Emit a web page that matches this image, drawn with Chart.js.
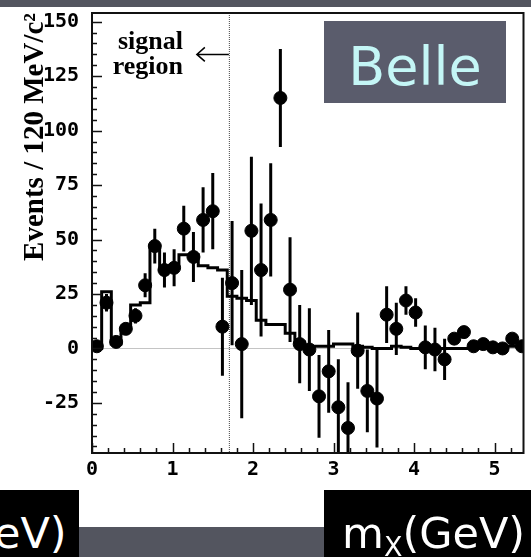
<!DOCTYPE html>
<html>
<head>
<meta charset="utf-8">
<script src="https://cdn.jsdelivr.net/npm/chart.js@4.4.0/dist/chart.umd.min.js"></script>
<style>
  html, body { margin: 0; padding: 0; background: #fff; }
  #wrap { position: relative; width: 531px; height: 557px; overflow: hidden; }
  #chart { position: absolute; left: 0; top: 0; }
  .band { position: absolute; background: #53555f; }
  .box { position: absolute; background: #000; color: #fff; font-family: "DejaVu Sans", sans-serif; white-space: nowrap; overflow: hidden; }
  #belle { position: absolute; left: 324px; top: 21px; width: 182px; height: 82px; background: #5a5c6c;
           color: #c4f6f6; font-family: "DejaVu Sans", sans-serif; font-size: 54px; line-height: 92px; text-align: center; }
  #signal { position: absolute; right: 348px; top: 28px; font-family: "Liberation Serif", serif; font-weight: bold;
            font-size: 26px; line-height: 25px; text-align: right; color: #000; }
</style>
</head>
<body>
<div id="wrap">
  <canvas id="chart" width="531" height="557"></canvas>
  <div class="band" style="left:0;top:0;width:531px;height:7px;"></div>
  <div id="belle">Belle</div>
  <div id="signal">signal<br>region</div>
  <div class="box" style="left:0;top:490px;width:79px;height:67px;font-size:43px;line-height:86px;text-indent:-6px;">eV)</div>
  <div class="band" style="left:79px;top:527px;width:245px;height:30px;"></div>
  <div class="box" style="left:324px;top:490px;width:207px;height:67px;font-size:43px;line-height:86px;padding-left:18px;box-sizing:border-box;">m<sub style="font-size:27px;vertical-align:-8px;">X</sub>(GeV)</div>
</div>
<script>
// bin centres, 120 MeV bins
const massBins = [0.06, 0.18, 0.30, 0.42, 0.54, 0.66, 0.78, 0.90, 1.02, 1.14,
                  1.26, 1.38, 1.50, 1.62, 1.74, 1.86, 1.98, 2.10, 2.22, 2.34,
                  2.46, 2.58, 2.70, 2.82, 2.94, 3.06, 3.18, 3.30, 3.42, 3.54,
                  3.66, 3.78, 3.90, 4.02, 4.14, 4.26, 4.38, 4.50, 4.62, 4.74,
                  4.86, 4.98, 5.10, 5.22, 5.34];
const eventCounts = [1, 21, 3, 9, 15, 29, 47, 36, 37, 55,
                     42, 59, 63, 10, 30, 2, 54, 36, 59, 115,
                     27, 2, -0.5, -22, -10.5, -27, -36.5, -1, -19.5, -23,
                     15.5, 9, 22, 16.5, 0.5, -0.5, -5, 4.5, 7.5, 1,
                     2, 0.5, 0, 4.5, 1];
const eventErrors = [2, 4, 1.5, 2.5, 3.5, 5.5, 8, 8, 8.5, 10.5,
                     11.5, 15, 17.5, 22.5, 28.5, 34, 34, 30.5, 26, 22.5,
                     24, 18, 19, 19, 19, 22, 21, 17.5, 19, 22.5,
                     13, 12, 6.5, 6.5, 10, 10, 9.5, 2, 2, 2,
                     2, 2, 2, 2, 2];
const fitCurve = [0, 26, 2, 9, 20, 21, 47, 36, 38, 43,
                  43, 38, 37, 36, 24, 23, 22, 13, 11, 11,
                  7, 3, 1, 1, 1, 2, 2, 1, 0.5, 0,
                  0, 1, 0.5, 0, 0, 0, 0, 0, 0, 0,
                  0, 0, 0, 1, 1];
const binWidth = 0.12;
const signalCut = 1.7;
const xRange = [0, 5.36];
const yRange = [-48, 154];

const points = massBins.map((m, i) => ({ x: m, y: eventCounts[i] }));
// step histogram: left edge of every bin, plus the right edge of the last one
const steps = massBins.map((m, i) => ({ x: m - binWidth / 2, y: fitCurve[i] }));
steps.push({ x: massBins[massBins.length - 1] + binWidth / 2, y: fitCurve[fitCurve.length - 1] });

const isMult = (v, s) => Math.abs(v / s - Math.round(v / s)) < 1e-6;

const framePlugin = {
    id: 'frame',
    beforeDatasetsDraw(chart) {
        const { ctx, chartArea: a, scales: { x, y } } = chart;
        ctx.save();
        // signal region cut
        const sx = x.getPixelForValue(signalCut);
        ctx.strokeStyle = '#444';
        ctx.lineWidth = 1;
        ctx.setLineDash([1, 1]);
        ctx.beginPath();
        ctx.moveTo(sx + 0.5, a.top);
        ctx.lineTo(sx + 0.5, a.bottom);
        ctx.stroke();
        ctx.setLineDash([]);
        // arrow pointing into signal region
        const ay = y.getPixelForValue(135);
        ctx.strokeStyle = '#000';
        ctx.lineWidth = 1.5;
        ctx.beginPath();
        ctx.moveTo(sx, ay);
        ctx.lineTo(sx - 32, ay);
        ctx.moveTo(sx - 24, ay - 7);
        ctx.lineTo(sx - 32, ay);
        ctx.lineTo(sx - 24, ay + 7);
        ctx.stroke();
        // error bars
        ctx.beginPath();
        ctx.rect(a.left, a.top, a.right - a.left, a.bottom - a.top);
        ctx.clip();
        ctx.lineWidth = 3;
        ctx.beginPath();
        massBins.forEach((m, i) => {
            const px = x.getPixelForValue(m);
            ctx.moveTo(px, y.getPixelForValue(eventCounts[i] + eventErrors[i]));
            ctx.lineTo(px, y.getPixelForValue(eventCounts[i] - eventErrors[i]));
        });
        ctx.stroke();
        ctx.restore();
    },
    afterDraw(chart) {
        const { ctx, chartArea: a, scales: { x, y } } = chart;
        ctx.save();
        ctx.strokeStyle = '#111';
        ctx.lineWidth = 1.5;
        ctx.beginPath();
        y.ticks.forEach(t => {
            if (!isMult(t.value, 5)) return;
            const py = Math.round(y.getPixelForValue(t.value)) + 0.5;
            ctx.moveTo(a.left, py);
            ctx.lineTo(a.left + (isMult(t.value, 25) ? 10 : 5), py);
        });
        x.ticks.forEach(t => {
            if (!isMult(t.value, 0.2)) return;
            const px = Math.round(x.getPixelForValue(t.value)) + 0.5;
            ctx.moveTo(px, a.bottom);
            ctx.lineTo(px, a.bottom - (isMult(t.value, 1) ? 10 : 5));
        });
        ctx.stroke();
        ctx.lineWidth = 2;
        ctx.strokeRect(a.left, a.top, a.right - a.left, a.bottom - a.top);
        ctx.restore();
    }
};

const tickFont = { family: '"DejaVu Sans Mono", monospace', size: 20, weight: 'bold' };

new Chart(document.getElementById('chart'), {
    type: 'scatter',
    data: {
        datasets: [
            {
                type: 'line',
                label: 'fit',
                data: steps,
                stepped: 'before',
                borderColor: '#000',
                borderWidth: 3,
                pointRadius: 0,
                fill: false,
                order: 2
            },
            {
                label: 'data',
                data: points,
                backgroundColor: '#000',
                borderColor: '#000',
                pointRadius: 6.5,
                order: 1
            }
        ]
    },
    options: {
        responsive: false,
        animation: false,
        layout: { padding: { left: 0, top: 13, right: 7.5, bottom: 0 } },
        plugins: { legend: { display: false }, tooltip: { enabled: false } },
        scales: {
            x: {
                type: 'linear',
                min: xRange[0],
                max: xRange[1],
                afterFit: s => { s.height = 104; s.paddingLeft = 0; s.paddingRight = 0; },
                grid: { display: false, drawTicks: false },
                border: { display: false },
                ticks: {
                    stepSize: 0.2,
                    autoSkip: false,
                    maxRotation: 0,
                    includeBounds: false,
                    padding: 5,
                    color: '#000',
                    font: tickFont,
                    callback: v => isMult(v, 1) ? Math.round(v) : ''
                }
            },
            y: {
                min: yRange[0],
                max: yRange[1],
                afterFit: s => { s.width = 92; s.paddingTop = 0; s.paddingBottom = 0; },
                grid: {
                    drawTicks: false,
                    lineWidth: 1,
                    color: c => c.tick && c.tick.value === 0 ? '#c4c4c4' : 'rgba(0,0,0,0)'
                },
                border: { display: false },
                ticks: {
                    stepSize: 5,
                    autoSkip: false,
                    includeBounds: false,
                    padding: 13,
                    color: '#000',
                    font: tickFont,
                    callback: v => isMult(v, 25) ? v : ''
                },
                title: {
                    display: true,
                    text: 'Events / 120 MeV/c²',
                    align: 'end',
                    color: '#000',
                    padding: { top: 18, bottom: 0 },
                    font: { family: '"Liberation Serif", serif', size: 29, weight: 'bold' }
                }
            }
        }
    },
    plugins: [framePlugin]
});
</script>
</body>
</html>
